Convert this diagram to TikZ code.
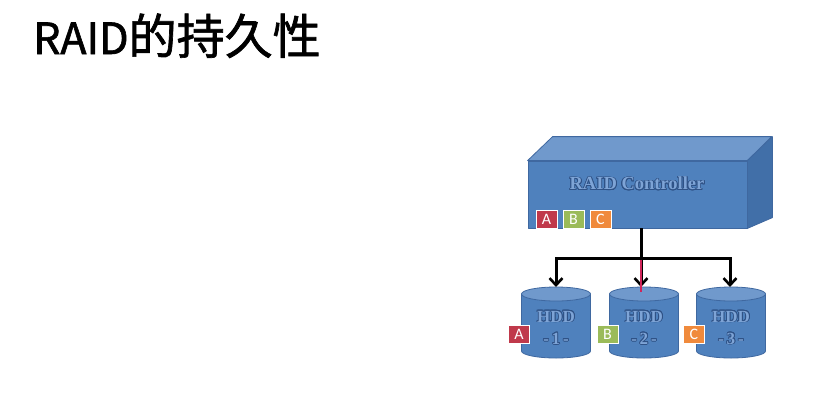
\documentclass[tikz,border=0pt]{standalone}
\usepackage{fontspec}
\setmainfont{Carlito}
\newfontfamily\cjk{Noto Sans CJK SC}[FakeBold=1.4]
\newfontfamily\embfont{Liberation Serif}
\usepackage{contour}
\contourlength{0.8pt}
\usetikzlibrary{arrows.meta}
\definecolor{boxblue}{HTML}{4F81BD}
\definecolor{boxtop}{HTML}{7099CC}
\definecolor{boxside}{HTML}{416FA8}
\definecolor{edgeblue}{HTML}{3F68A0}
\definecolor{txtblue}{HTML}{7EA4D6}
\definecolor{txtdark}{HTML}{2F5286}
\definecolor{tagred}{HTML}{C0394B}
\definecolor{taggreen}{HTML}{9BBB59}
\definecolor{tagorange}{HTML}{F08A3C}
\definecolor{linkred}{HTML}{D0255A}
\newcommand{\embtext}[1]{\contour{txtdark}{\textcolor{txtblue}{#1}}}
\tikzset{
  tag/.style={minimum width=21pt, minimum height=18pt, inner sep=0pt, text=white, font=\fontsize{16}{16}\selectfont, draw=white, line width=0.3pt},
  hddlabel/.style={align=center, font=\embfont\fontsize{17}{20}\selectfont\bfseries, inner sep=0pt},
  link/.style={line width=3pt, -{Straight Barb[length=7pt,width=13pt,line width=2.6pt]}},
  face/.style={draw=edgeblue, line width=0.8pt, line join=round}
}
\begin{document}
\begin{tikzpicture}[x=1pt,y=-1pt]
\useasboundingbox (0,0) rectangle (825,400);
\fill[white] (0,0) rectangle (825,400);
% title
\node[anchor=base west, inner sep=0pt, font=\cjk\fontsize{43}{43}\selectfont] (title) at (33,54) {RAID{\fontsize{48}{48}\selectfont 的持久性}};
% controller
\node[face, fill=boxblue, minimum width=219pt, minimum height=67pt, inner sep=0pt] (ctrl) at (637.5,194.5) {};
\draw[face, fill=boxtop] (ctrl.north west) -- ++(25,-24) -- ++(219,0) -- (ctrl.north east) -- cycle;
\draw[face, fill=boxside] (ctrl.north east) -- ++(25,-24) -- ++(0,81) -- (ctrl.south east) -- cycle;
\node[font=\embfont\fontsize{18.5}{18}\selectfont\bfseries, inner sep=0pt] (ctrltxt) at (637,184) {\embtext{RAID Controller}};
\node[tag, fill=tagred] (ca) at (546.5,219) {A};
\node[tag, fill=taggreen] (cb) at (573.5,219) {B};
\node[tag, fill=tagorange] (cc) at (600.5,219) {C};
% disks
\foreach \n/\cx/\num in {1/556/1, 2/644/2, 3/731/3}{
  \fill[boxblue, draw=edgeblue, line width=0.8pt] (\cx-34.5,294) -- (\cx-34.5,351) arc[start angle=180, end angle=0, x radius=34.5, y radius=7] -- (\cx+34.5,294) -- cycle;
  \filldraw[fill=boxtop, draw=edgeblue, line width=0.8pt] (\cx,294) ellipse[x radius=34.5, y radius=7];
  \coordinate (top\n) at (\cx,287);
  \node[hddlabel] (hdd\n) at (\cx,317) {\embtext{HDD}};
  \node[hddlabel] (num\n) at (\cx,339) {\embtext{-\,\num\,-}};
}
\node[tag, fill=tagred] (da) at (519,334) {A};
\node[tag, fill=taggreen] (db) at (607.5,334) {B};
\node[tag, fill=tagorange] (dc) at (694,334) {C};
% connectors
\coordinate (split) at (641,258);
\draw[line width=3pt] (ctrl.south -| split) -- (split);
\draw[link] (split) -| (top1);
\draw[link] (split) -- (split |- top2);
\draw[link] (split) -| (top3 -| 730,0);
\draw[linkred, line width=2.4pt] (split) ++(0,1.6) -- (641,292);
\end{tikzpicture}
\end{document}
